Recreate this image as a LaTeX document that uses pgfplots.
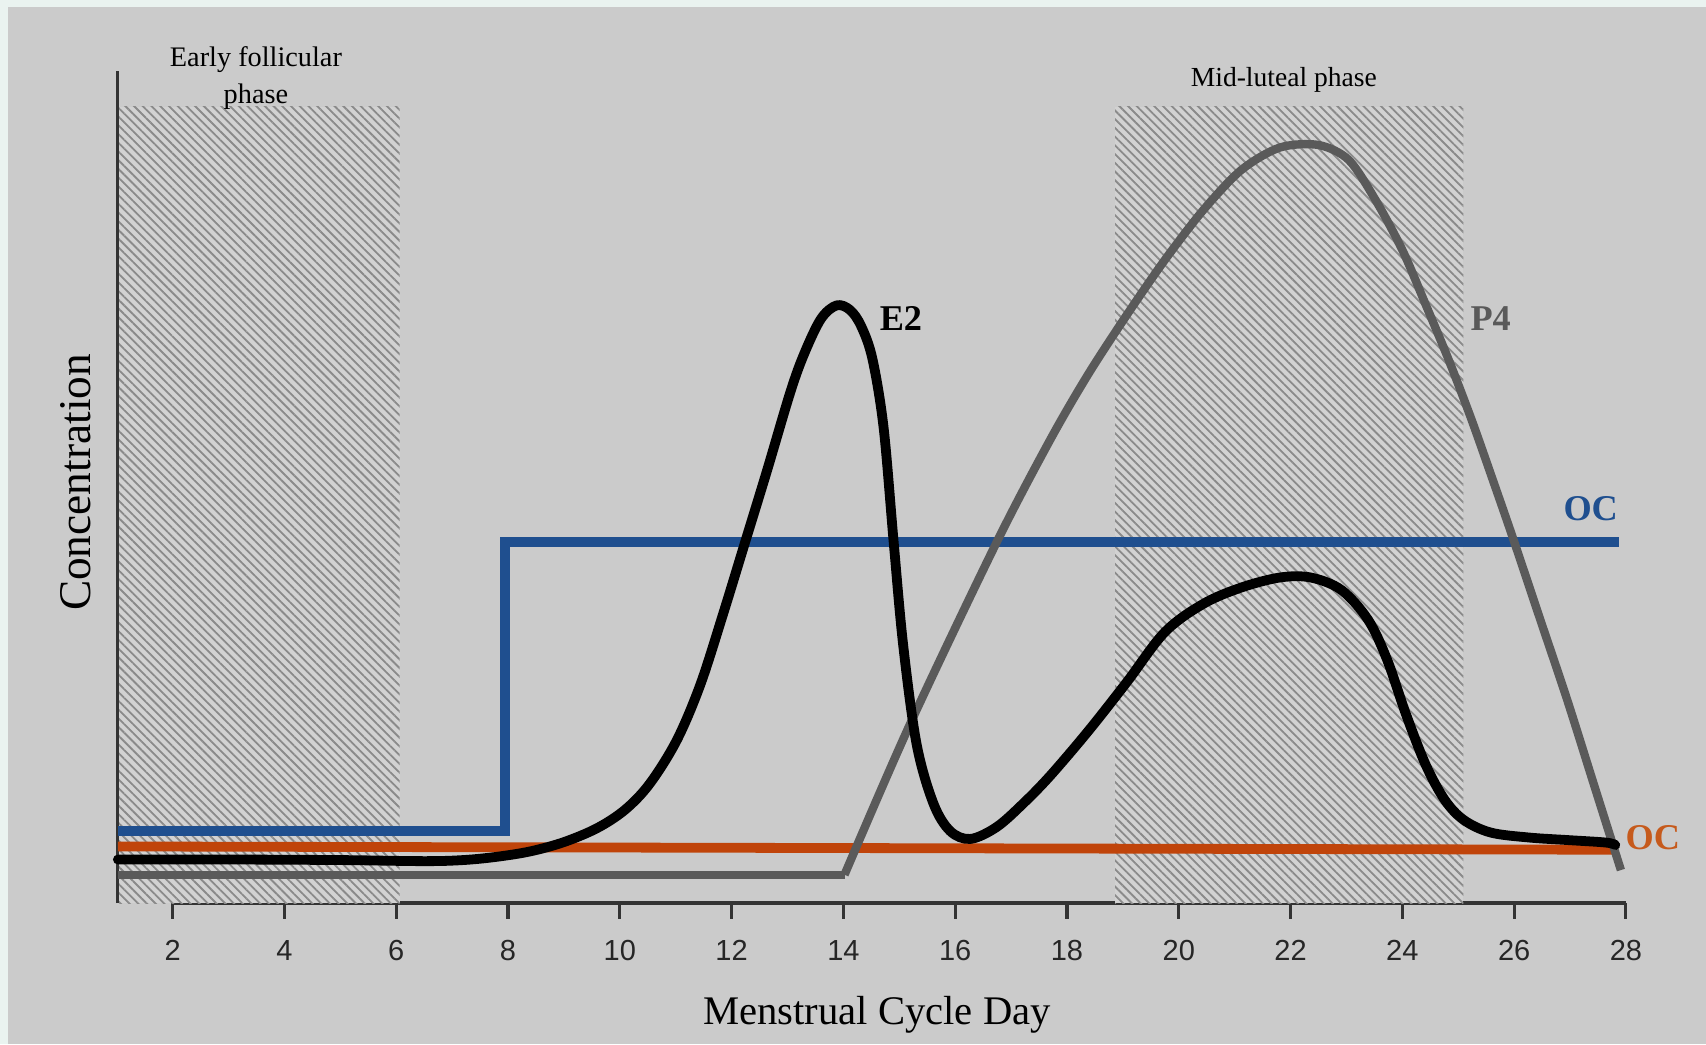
\documentclass[border=0pt]{standalone}
\usepackage{fontspec}
\setmainfont{Liberation Serif}
\newfontfamily\sansf{Liberation Sans}
\usepackage{pgfplots}
\pgfplotsset{compat=1.18}
\usetikzlibrary{patterns.meta}
\definecolor{outerbg}{HTML}{EAF3F0}
\definecolor{panel}{HTML}{CBCBCB}
\definecolor{hatchbg}{HTML}{D2D2D2}
\definecolor{hatchln}{HTML}{8A8A8A}
\definecolor{ocblue}{HTML}{1F4F8F}
\definecolor{ocorange}{HTML}{C0440A}
\definecolor{ocorangetxt}{HTML}{C65A1C}
\definecolor{p4gray}{HTML}{5A5A5A}
\definecolor{axisc}{HTML}{333333}
\begin{document}
\begin{tikzpicture}
\useasboundingbox (0,0) rectangle (470.4pt,288pt);
\fill[outerbg] (0,0) rectangle (470.4pt,288pt);
\fill[panel] (2.22pt,0) rectangle (470.4pt,286.08pt);
\begin{axis}[
  at={(32.19pt,39pt)}, anchor=south west,
  scale only axis, width=416.13pt, height=229.5pt,
  xmin=1, xmax=28, ymin=0, ymax=765,
  axis x line*=bottom, axis y line*=left,
  axis line style={draw=none},
  xtick={2,4,...,28}, ytick=\empty,
  tick align=outside, major tick length=4.3pt,
  every tick/.style={axisc, line width=0.85pt},
  tick label style={font=\sansf\fontsize{8}{8}\selectfont, text=black!85},
  xticklabel style={yshift=-2.4pt},
  /pgf/number format/assume math mode=true,
  clip=false, no markers,
]
% x axis line
\addplot[axisc, line width=0.9pt] coordinates {(2,0) (28,0)};
% hatched phases
\addplot[draw=none, fill=hatchbg] coordinates {(1,0) (6.06,0) (6.06,732) (1,732)} -- cycle;
\addplot[draw=none, pattern={Lines[angle=-45,distance=1.7pt,line width=0.5pt]}, pattern color=hatchln] coordinates {(1,0) (6.06,0) (6.06,732) (1,732)} -- cycle;
\addplot[draw=none, fill=hatchbg] coordinates {(18.86,0) (25.09,0) (25.09,732) (18.86,732)} -- cycle;
\addplot[draw=none, pattern={Lines[angle=-45,distance=1.7pt,line width=0.5pt]}, pattern color=hatchln] coordinates {(18.86,0) (25.09,0) (25.09,732) (18.86,732)} -- cycle;
% y axis line
\addplot[axisc, line width=0.9pt] coordinates {(1.02,0) (1.02,765)};
% OC blue
\addplot[ocblue, line width=2.7pt, line join=miter] coordinates {(1.02,66) (7.95,66) (7.95,332) (27.88,332)};
% OC orange
\addplot[ocorange, line width=2.7pt] coordinates {(1.02,52) (27.77,49)};
% P4
\addplot[p4gray, line width=2.3pt] coordinates {(1.02,26) (14.02,26)};
\addplot[p4gray, line width=2.3pt, smooth, tension=0.5] coordinates {
(14.02,26)(15.19,164.2)(16.74,331.4)(17.70,425.8)(18.38,486)(19.07,540.5)(19.75,591)(20.44,637)(21.12,673.8)(21.81,694.4)(22.50,696.7)(23.04,683)(23.52,646.2)(24.00,600.2)(24.42,549.7)(24.83,499.1)(25.24,444)(25.65,384.2)(25.99,333.7)(26.47,260.1)(26.95,186.6)(27.43,108.4)(27.91,30.3)};
% E2
\addplot[black, line width=2.7pt, smooth, tension=0.55, line cap=round, line join=round] coordinates {
(1.02,40)(3,40)(5,39.5)(6.5,38.5)(7.2,39.5)(7.8,42.5)(8.4,47.5)(9.0,56)(9.6,69)(10.1,86)(10.54,110)(11.02,149.7)(11.44,200.6)(11.85,266)(12.24,331.4)(12.63,396.8)(13.05,469.4)(13.3,505)(13.6,537)(13.88,549.3)(14.12,545)(14.32,530)(14.52,500)(14.72,436.7)(14.90,331.4)(15.07,236.9)(15.31,146)(15.61,91.6)(15.91,66.2)(16.27,58.9)(16.74,69.8)(17.22,91.6)(17.70,117)(18.38,158)(19.07,203)(19.75,249)(20.44,275)(21.12,290)(21.81,299.2)(22.36,299.2)(22.91,287.7)(23.39,260.1)(23.73,223.3)(24.07,172.8)(24.42,126.8)(24.76,94.7)(25.10,76.3)(25.58,64.8)(26.27,60.2)(26.95,57.9)(27.64,55.6)(27.81,53.3)};
% labels
\node[font=\bfseries\fontsize{10}{10}\selectfont] at (axis cs:15.03,537) {E2};
\node[font=\bfseries\fontsize{10}{10}\selectfont, text=p4gray] at (axis cs:25.58,537) {P4};
\node[font=\bfseries\fontsize{10}{10}\selectfont, text=ocblue] at (axis cs:27.37,362) {OC};
\node[font=\bfseries\fontsize{10}{10}\selectfont, text=ocorangetxt] at (axis cs:28.48,60) {OC};
\node[font=\fontsize{7.8}{10.2}\selectfont, align=center] at (axis cs:3.49,758) {Early follicular\\phase};
\node[font=\fontsize{7.6}{9}\selectfont] at (axis cs:21.88,757) {Mid-luteal phase};
\node[font=\fontsize{11.2}{12}\selectfont] at (axis cs:14.6,-103) {Menstrual Cycle Day};
\node[font=\fontsize{12.5}{13}\selectfont, rotate=90] at (axis cs:0.274,386.5) {Concentration};
\end{axis}
\end{tikzpicture}
\end{document}
